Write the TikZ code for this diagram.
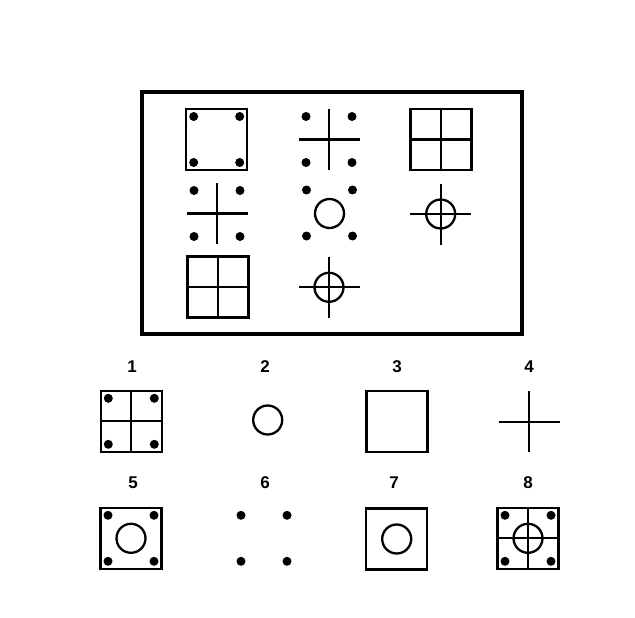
\documentclass[tikz,border=0pt]{standalone}
\usepackage{fontspec}
\setmainfont{Liberation Sans}
% pieces of the figures, centred at (#1,#2)
\newcommand{\figsquare}[2]{\draw[fig] (#1-30.5,#2-30.5) rectangle (#1+30.5,#2+30.5);}
\newcommand{\figcross}[2]{\draw[fig] (#1-30.5,#2) -- (#1+30.5,#2) (#1,#2-30.5) -- (#1,#2+30.5);}
\newcommand{\figring}[2]{\draw[fig] (#1,#2) circle (14.5);}
\newcommand{\figdots}[2]{\foreach \dx in {-23,23} \foreach \dy in {-23,23} \fill (#1+\dx,#2+\dy) circle (4.5);}
\tikzset{
    fig/.style={line width=2.3pt},
    frame/.style={line width=3.5pt},
    num/.style={font=\fontsize{17}{17}\selectfont\bfseries, inner sep=0pt}
}
\begin{document}
\begin{tikzpicture}[x=1pt,y=-1pt]
    \useasboundingbox (0,0) rectangle (635,618);
    \draw[frame] (142,92) coordinate (F1) rectangle (522,334) coordinate (F2);
    % the matrix
    \figsquare{216.7}{139.5} \figdots{216.7}{139.5}
    \figcross{329}{139.5} \figdots{329}{139.5}
    \figsquare{441}{139.5} \figcross{441}{139.5}
    \figcross{217}{213.5} \figdots{217}{213.5}
    \figring{329.5}{213.5} \figdots{329.5}{213}
    \figring{440.7}{214} \figcross{440.7}{214}
    \figsquare{218}{287} \figcross{218}{287}
    \figring{329}{287.3} \figcross{329}{287.3}
    % the answers
    \node[num] (n1) at (132,367) {1};
    \node[num] (n2) at (265,367) {2};
    \node[num] (n3) at (397,367) {3};
    \node[num] (n4) at (529,367) {4};
    \node[num] (n5) at (133,483) {5};
    \node[num] (n6) at (265,483) {6};
    \node[num] (n7) at (394,483) {7};
    \node[num] (n8) at (528,483) {8};
    \figsquare{131.3}{421.3} \figcross{131.3}{421.3} \figdots{131.3}{421.3}
    \figring{267.7}{420}
    \figsquare{397}{421.8}
    \figcross{529}{421.7}
    \figsquare{131}{538.3} \figring{131}{538.3} \figdots{131}{538.3}
    \figdots{264}{538.3}
    \figsquare{396.7}{539} \figring{396.7}{539}
    \figsquare{528}{538.3} \figcross{528}{538.3} \figring{528}{538.3} \figdots{528}{538.3}
\end{tikzpicture}
\end{document}
